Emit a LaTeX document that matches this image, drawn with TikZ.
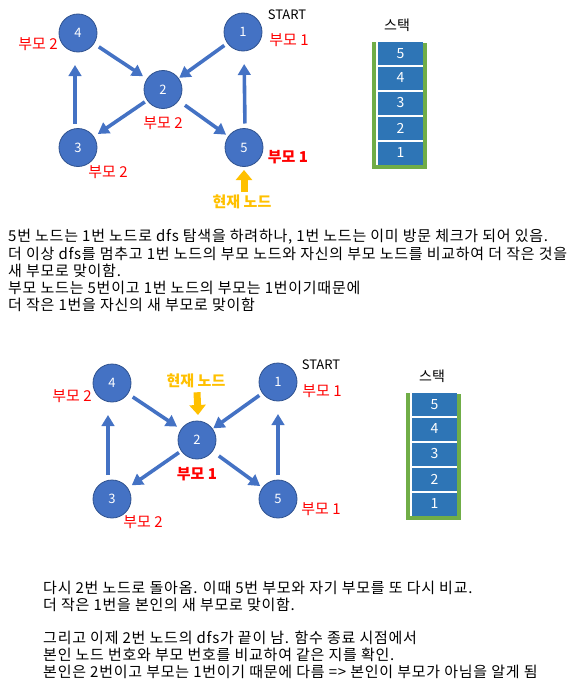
\documentclass[tikz,border=0pt]{standalone}
\usepackage{fontspec}
\setmainfont{Noto Sans CJK KR}
\newfontfamily\bodyfont{Noto Sans CJK KR}[LetterSpace=5]
\usetikzlibrary{arrows.meta}
\definecolor{nodeblue}{HTML}{4472C4}
\definecolor{nodeedge}{HTML}{2F528F}
\definecolor{stackblue}{HTML}{2E75B6}
\definecolor{stackgreen}{HTML}{70AD47}
\definecolor{curorange}{HTML}{FFC000}
\definecolor{labred}{HTML}{FF0000}
\begin{document}
\begin{tikzpicture}[x=1pt,y=-1pt,
  vertex/.style={circle, fill=nodeblue, draw=nodeedge, line width=0.8pt, minimum size=38pt, inner sep=0pt, outer sep=0pt, text=white, font=\fontsize{13}{13}\selectfont},
  edge/.style={draw=nodeblue, line width=3.6pt, -{Triangle[length=11pt,width=12.5pt]}},
  plabel/.style={text=labred, font=\fontsize{15}{15}\selectfont, inner sep=0pt},
  pbold/.style={text=labred, font=\fontsize{15}{15}\selectfont\bfseries, inner sep=0pt},
  curlabel/.style={text=curorange, font=\fontsize{15}{15}\selectfont\bfseries, inner sep=0pt},
  curarrow/.style={draw=curorange, line width=7pt, -{Triangle[length=10pt,width=16pt]}},
  plain/.style={text=black, font=\fontsize{13}{13}\selectfont, inner sep=0pt},
  body/.style={text=black, font=\bodyfont\fontsize{15}{15}\selectfont, inner sep=0pt, anchor=west},
  stackbox/.style={rectangle, fill=stackblue, minimum width=45pt, minimum height=23pt, inner sep=0pt, text=white, font=\fontsize{14}{14}\selectfont},
  stackwall/.style={draw=stackgreen, line width=4pt, line join=miter}
]
\useasboundingbox (0,0) rectangle (580,688);

% ---------- top diagram ----------
\node[vertex] (t4) at (78,33) {4};
\node[vertex] (t1) at (243,32) {1};
\node[vertex] (t2) at (163,89.5) {2};
\node[vertex] (t3) at (78,147.5) {3};
\node[vertex] (t5) at (244,147.5) {5};

\draw[edge, shorten <=6pt, shorten >=5pt] (t4) -- (t2);
\draw[edge, shorten <=4pt, shorten >=1pt] (t1) -- (t2);
\draw[edge, shorten <=3pt, shorten >=5pt] (t2) -- (t3);
\draw[edge, shorten <=8pt, shorten >=3pt] (t2) -- (t5);
\draw[edge, shorten <=5pt, shorten >=13pt] ([xshift=-3pt]t3.north) -- ([xshift=-3pt]t4.south);
\draw[edge, shorten <=5pt, shorten >=13pt] ([xshift=1pt]t5.north) -- ([xshift=1pt]t1.south);

\node[plabel] (tl4) at (38,44) {부모 2};
\node[plain] (tstart) at (287,15) {START};
\node[plabel] (tl1) at (289,40) {부모 1};
\node[plabel] (tl2) at (163,123) {부모 2};
\node[plabel] (tl3) at (108,172) {부모 2};
\node[pbold] (tl5) at (288,157) {부모 1};
\node[curlabel] (tcur) at (242,202) {현재 노드};
\draw[curarrow] ([xshift=2pt,yshift=3pt]tcur.north) -- ([yshift=-3.5pt]t5.south);

% ---------- top stack ----------
\node[plain, font=\fontsize{14}{14}\selectfont] (tsk) at (397,25) {스택};
\node[stackbox] (ts5) at (400.5,53.5) {5};
\node[stackbox] (ts4) at (400.5,78) {4};
\node[stackbox] (ts3) at (400.5,103) {3};
\node[stackbox] (ts2) at (400.5,128) {2};
\node[stackbox] (ts1) at (400.5,153) {1};
\draw[stackwall] (374,42) -- (374,167) -- (425,167) -- (425,43);

% ---------- top text ----------
\node[body] (tx1) at (8,237) {5번 노드는 1번 노드로 dfs 탐색을 하려하나, 1번 노드는 이미 방문 체크가 되어 있음.};
\node[body] (tx2) at (8,254) {더 이상 dfs를 멈추고 1번 노드의 부모 노드와 자신의 부모 노드를 비교하여 더 작은 것을};
\node[body] (tx3) at (8,271) {새 부모로 맞이함.};
\node[body] (tx4) at (8,288) {부모 노드는 5번이고 1번 노드의 부모는 1번이기때문에};
\node[body] (tx5) at (8,305) {더 작은 1번을 자신의 새 부모로 맞이함};

% ---------- bottom diagram ----------
\node[vertex] (b4) at (112,383) {4};
\node[vertex] (b1) at (278,382) {1};
\node[vertex] (b2) at (197,440) {2};
\node[vertex] (b3) at (112,499) {3};
\node[vertex] (b5) at (278,499) {5};

\draw[edge, shorten <=6pt, shorten >=5pt] (b4) -- (b2);
\draw[edge, shorten <=4pt, shorten >=1pt] (b1) -- (b2);
\draw[edge, shorten <=3pt, shorten >=5pt] (b2) -- (b3);
\draw[edge, shorten <=8pt, shorten >=3pt] (b2) -- (b5);
\draw[edge, shorten <=5pt, shorten >=13pt] ([xshift=-4pt]b3.north) -- ([xshift=-4pt]b4.south);
\draw[edge, shorten <=5pt, shorten >=13pt] (b5.north) -- (b1.south);

\node[plabel] (bl4) at (72,396) {부모 2};
\node[plain] (bstart) at (321,365) {START};
\node[plabel] (bl1) at (322,391) {부모 1};
\node[pbold] (bl2) at (197,474) {부모 1};
\node[plabel] (bl3) at (143,522) {부모 2};
\node[plabel] (bl5) at (321,509) {부모 1};
\node[curlabel] (bcur) at (196,381) {현재 노드};
\draw[curarrow] ([xshift=1pt,yshift=-4pt]bcur.south) -- ([xshift=1pt,yshift=6pt]b2.north);

% ---------- bottom stack ----------
\node[plain, font=\fontsize{14}{14}\selectfont] (bsk) at (432,376) {스택};
\node[stackbox] (bs5) at (434.5,404.5) {5};
\node[stackbox] (bs4) at (434.5,429) {4};
\node[stackbox] (bs3) at (434.5,454) {3};
\node[stackbox] (bs2) at (434.5,479) {2};
\node[stackbox] (bs1) at (434.5,504) {1};
\draw[stackwall] (408,393) -- (408,518) -- (459,518) -- (459,394);

% ---------- bottom text ----------
\node[body] (bx1) at (43,588) {다시 2번 노드로 돌아옴. 이때 5번 부모와 자기 부모를 또 다시 비교.};
\node[body] (bx2) at (43,605) {더 작은 1번을 본인의 새 부모로 맞이함.};
\node[body] (bx3) at (43,638) {그리고 이제 2번 노드의 dfs가 끝이 남. 함수 종료 시점에서};
\node[body] (bx4) at (43,655) {본인 노드 번호와 부모 번호를 비교하여 같은 지를 확인.};
\node[body] (bx5) at (43,672) {본인은 2번이고 부모는 1번이기 때문에 다름 => 본인이 부모가 아님을 알게 됨};
\end{tikzpicture}
\end{document}
